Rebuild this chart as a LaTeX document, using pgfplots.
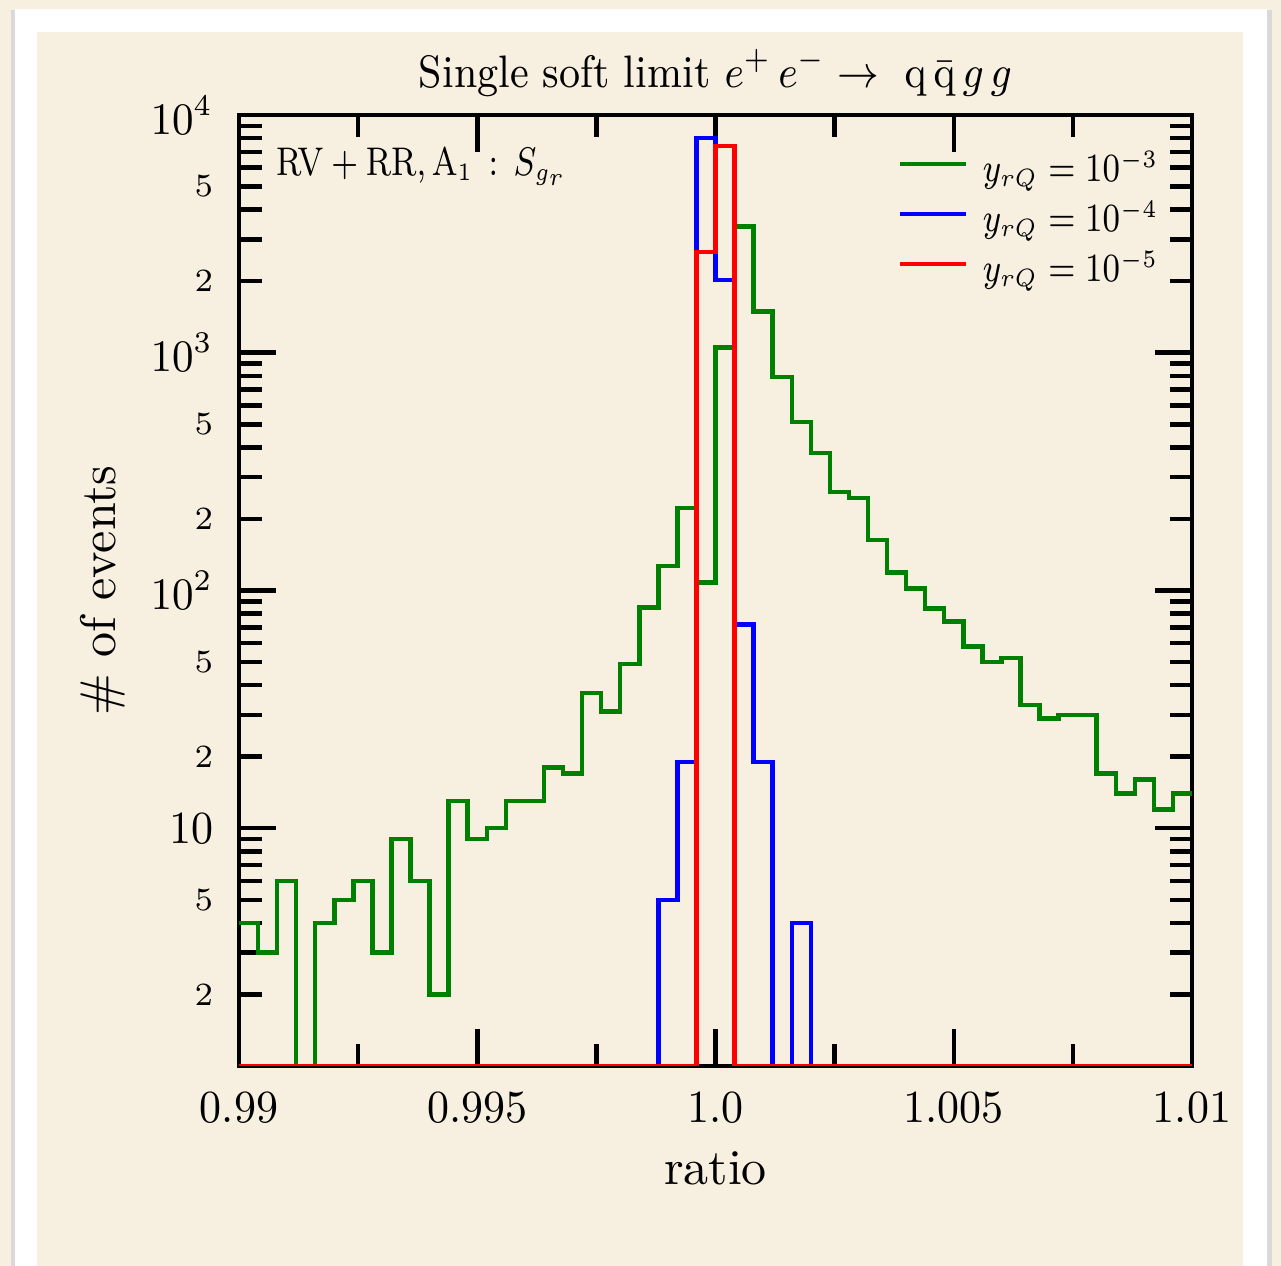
\documentclass[border=0pt]{standalone}
\usepackage{graphicx}
\usepackage{pgfplots}
\usepackage{pgfplotstable}
\pgfplotsset{compat=1.18}
\definecolor{paper}{RGB}{247,239,224}
\definecolor{hgreen}{RGB}{0,128,0}
\newcommand{\sq}[2]{\scalebox{#1}[1]{#2}}

% bin left edges, last row closes the last bin; empty bins set to 1 (= ymin)
\pgfplotstableread{
x      g     b     r
0.9900 4     1     1
0.9904 3     1     1
0.9908 6     1     1
0.9912 1     1     1
0.9916 4     1     1
0.9920 5     1     1
0.9924 6     1     1
0.9928 3     1     1
0.9932 9     1     1
0.9936 6     1     1
0.9940 2     1     1
0.9944 13    1     1
0.9948 9     1     1
0.9952 10    1     1
0.9956 13    1     1
0.9960 13    1     1
0.9964 18    1     1
0.9968 17    1     1
0.9972 37    1     1
0.9976 31    1     1
0.9980 49    1     1
0.9984 85    1     1
0.9988 127   5     1
0.9992 222   19    1
0.9996 108   8000  2650
1.0000 1050  2020  7400
1.0004 3400  72    1
1.0008 1490  19    1
1.0012 790   1     1
1.0016 511   4     1
1.0020 379   1     1
1.0024 260   1     1
1.0028 245   1     1
1.0032 163   1     1
1.0036 119   1     1
1.0040 102   1     1
1.0044 84    1     1
1.0048 74    1     1
1.0052 58    1     1
1.0056 50    1     1
1.0060 52    1     1
1.0064 33    1     1
1.0068 29    1     1
1.0072 30    1     1
1.0076 30    1     1
1.0080 17    1     1
1.0084 14    1     1
1.0088 16    1     1
1.0092 12    1     1
1.0096 14    1     1
1.0100 14    1     1
}\hist

\begin{document}
\begin{tikzpicture}
\useasboundingbox (0,0) rectangle (256.2pt,253.2pt);
\fill[paper] (0,0) rectangle (256.2pt,253.2pt);
\fill[black!15] (2.2pt,-5pt) rectangle (254.4pt,251.2pt);
\fill[white] (3pt,-5pt) rectangle (253.4pt,251.4pt);
\fill[paper] (7.4pt,-5pt) rectangle (248.6pt,246.8pt);
\begin{axis}[
    at={(47.8pt,40pt)}, anchor=south west,
    scale only axis, width=190.6pt, height=190.2pt,
    xmin=0.99, xmax=1.01, ymin=1, ymax=10000, ymode=log,
    scaled x ticks=false,
    xtick={0.99,0.995,1,1.005,1.01},
    xticklabels={\sq{.93}{0.99},\sq{.93}{0.995},\sq{.93}{1.0},\sq{.93}{1.005},\sq{.93}{1.01}},
    minor xtick={0.9925,0.9975,1.0025,1.0075},
    ytick={10,100,1000,10000},
    yticklabels={\sq{.93}{10},\sq{.93}{$10^2$},\sq{.93}{$10^3$},\sq{.93}{$10^4$}},
    minor ytick={2,3,4,5,6,7,8,9,20,30,40,50,60,70,80,90,200,300,400,500,600,700,800,900,2000,3000,4000,5000,6000,7000,8000,9000},
    extra y ticks={2,5,20,50,200,500,2000,5000},
    extra y tick labels={2,5,2,5,2,5,2,5},
    extra y tick style={major tick length=4.5pt,
        yticklabel style={font=\fontsize{6.5}{7}\selectfont}},
    tick align=inside,
    major tick length=7.4pt, minor tick length=4.5pt,
    every tick/.style={black, line width=0.9pt},
    axis line style={line width=0.9pt},
    xticklabel style={font=\fontsize{9.2}{10}\selectfont, anchor=base, yshift=-11.4pt, inner sep=0pt},
    yticklabel style={font=\fontsize{9.2}{10}\selectfont, anchor=east, xshift=-5pt, inner sep=0pt},
    title={\sq{.90}{Single soft limit $e^+\,e^-\to\ \mathrm{q}\,\bar{\mathrm{q}}\,g\,g$}},
    title style={at={(axis description cs:0.5,1.0284)}, anchor=base, yshift=-6pt, inner sep=0pt,
        font=\fontsize{9.1}{11}\selectfont},
    xlabel={ratio},
    xlabel style={at={(axis description cs:0.5,-0.1251)}, anchor=base, inner sep=0pt,
        font=\fontsize{10}{12}\selectfont},
    ylabel={\# of events},
    ylabel style={at={(axis description cs:-0.1427,0.5)}, anchor=center, inner sep=0pt,
        font=\fontsize{10}{12}\selectfont},
    legend style={draw=none, fill=none, inner sep=0pt, outer sep=0pt,
        at={(axis description cs:0.968,0.9645)}, anchor=north east,
        font=\fontsize{7.8}{9}\selectfont,
        nodes={inner sep=0.65pt, text height=6pt, text depth=2.7pt},
        column sep=2.3pt, row sep=0pt},
    legend cell align=left,
    legend image code/.code={\draw[#1, line width=0.9pt] (0pt,1.9pt) -- (13.2pt,1.9pt);},
]
\addplot[hgreen, line width=0.9pt, const plot] table[x=x, y=g] {\hist};
\addlegendentry{\sq{.82}{$y_{rQ}=10^{-3}$}}
\addplot[blue, line width=0.9pt, const plot] table[x=x, y=b] {\hist};
\addlegendentry{\sq{.82}{$y_{rQ}=10^{-4}$}}
\addplot[red, line width=0.9pt, const plot] table[x=x, y=r] {\hist};
\addlegendentry{\sq{.82}{$y_{rQ}=10^{-5}$}}
\node[anchor=base west, inner sep=0pt, font=\fontsize{7.6}{9}\selectfont]
    at (axis description cs:0.0378,0.936) {\sq{.81}{$\mathrm{RV}+\mathrm{RR},\mathrm{A}_1\,:\,S_{g_r}$}};
\end{axis}
\end{tikzpicture}
\end{document}
